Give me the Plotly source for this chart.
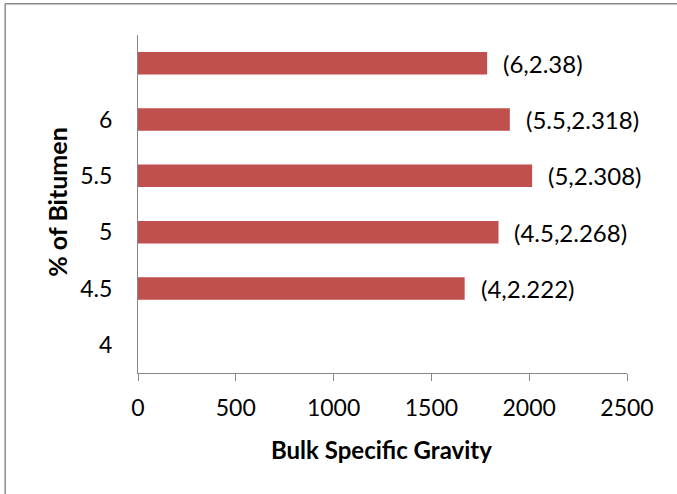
import plotly.graph_objects as go

categories = ["4", "4.5", "5", "5.5", "6", " "]
values = [None, 1670, 1843, 2015, 1901, 1785]
labels = ["", "(4,2.222)", "(4.5,2.268)", "(5,2.308)", "(5.5,2.318)", "(6,2.38)"]
x_ticks = [0, 500, 1000, 1500, 2000, 2500]

FONT = "Lato"
GRAY = "#868686"

fig = go.Figure()
fig.add_trace(go.Bar(
    y=categories, x=values, orientation="h",
    marker=dict(color="#C0504D", line=dict(width=0)),
    width=0.4, hoverinfo="x+y",
))

for i, (v, t) in enumerate(zip(values, labels)):
    if v is None:
        continue
    fig.add_annotation(x=v, y=i, xref="x", yref="y", text=t, showarrow=False,
                       xanchor="left", yanchor="middle", xshift=14,
                       font=dict(family=FONT, size=24, color="#000000"))

fig.add_annotation(x=0.4987, y=-0.227, xref="paper", yref="paper",
                   text="<b>Bulk Specific Gravity</b>", showarrow=False,
                   xanchor="center", yanchor="middle",
                   font=dict(family=FONT, size=24, color="#000000"))
fig.add_annotation(x=-0.166, y=0.506, xref="paper", yref="paper",
                   text="<b>% of Bitumen</b>", showarrow=False, textangle=-90,
                   xanchor="center", yanchor="middle",
                   font=dict(family=FONT, size=25, color="#000000"))

# outer chart border (top and left edges visible)
fig.add_shape(type="line", xref="paper", yref="paper",
              x0=-0.2716, x1=1.3, y0=1.0925, y1=1.0925,
              line=dict(color="#8a8a8a", width=1.5))
fig.add_shape(type="line", xref="paper", yref="paper",
              x0=-0.2716, x1=-0.2716, y0=-0.5, y1=1.0925,
              line=dict(color="#8a8a8a", width=1.5))

fig.update_layout(
    width=677, height=494,
    margin=dict(l=138, r=50, t=35, b=121),
    paper_bgcolor="white", plot_bgcolor="white",
    showlegend=False,
    font=dict(family=FONT, size=22, color="#000000"),
    xaxis=dict(range=[0, 2500], tickvals=x_ticks, ticks="outside", ticklen=7,
               tickcolor=GRAY, tickwidth=1, showline=True, linecolor=GRAY,
               linewidth=1, showgrid=False, zeroline=False, ticklabelstandoff=7,
               tickfont=dict(family=FONT, size=23, color="#000000")),
    yaxis=dict(type="category", categoryorder="array", categoryarray=categories,
               range=[-0.5, 5.5], showline=True, linecolor=GRAY, linewidth=1,
               ticks="", showgrid=False, zeroline=False, ticklabelstandoff=20,
               tickfont=dict(family=FONT, size=23, color="#000000")),
)

fig.write_html("out.html")
